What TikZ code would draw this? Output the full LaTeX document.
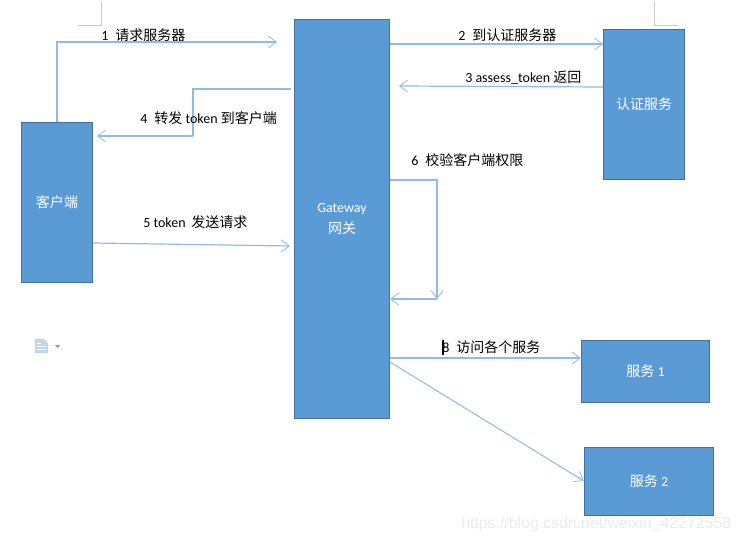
\documentclass[tikz,border=0pt]{standalone}
\usepackage{fontspec}
\setmainfont{Carlito}
\newfontfamily\cjk{Noto Sans CJK SC}
\usetikzlibrary{arrows.meta}
\definecolor{boxblue}{HTML}{5B9BD5}
\definecolor{boxedge}{HTML}{41719C}
\definecolor{linkblue}{HTML}{8FBCE6}
\tikzset{box/.style={draw=boxedge,fill=boxblue,line width=.75pt,text=white,inner sep=0pt,align=center,font=\fontsize{10.5}{14}\selectfont},
  link/.style={draw=linkblue,line width=.9pt,-{Straight Barb[length=6pt,width=9pt,line width=.6pt]}},
  plainlink/.style={draw=linkblue,line width=.9pt},
  lab/.style={font=\fontsize{10.5}{14}\selectfont,inner sep=0pt,anchor=west},
  cornermark/.style={draw=black!20,line width=.6pt}}

\begin{document}
\begin{tikzpicture}[x=.75pt,y=-.75pt]
  \useasboundingbox (0,0) rectangle (742,542);
  % boxes
  \node[box,minimum width=53.25pt,minimum height=120.5pt] (client) at (57,202.5) {\cjk 客户端};
  \node[box,minimum width=71.25pt,minimum height=298.5pt] (gateway) at (342,219) {Gateway\\[2pt]\cjk 网关};
  \node[box,minimum width=60.75pt,minimum height=111.75pt] (auth) at (644,104.5) {\cjk 认证服务};
  \node[box,minimum width=96.5pt,minimum height=46.5pt] (serviceA) at (645.5,371) {{\cjk 服务} 1};
  \node[box,minimum width=97pt,minimum height=51pt] (serviceB) at (649,481) {{\cjk 服务} 2};
  % free ends of the connectors
  \coordinate (gwa) at (277,42);
  \coordinate (gwb) at (291,89);
  \coordinate (gwc) at (399,86);
  \coordinate (gwd) at (290,246);
  \coordinate (turn) at (437,180);
  \coordinate (back) at (437,299);
  \coordinate (elbow) at (193,136);
  % connectors
  \draw[link] (client.north) |- (gwa);
  \draw[link] (gateway.east |- 0,44) -- (auth.west |- 0,44);
  \draw[link] (auth.west |- 0,87) -- (gwc);
  \draw[plainlink] (gwb) -| (elbow);
  \draw[link,shorten >=3pt] (elbow) -- (client.east |- elbow);
  \draw[link] (client.east |- 0,243) -- (gwd);
  \draw[link] (gateway.east |- turn) -- (turn) -- (back);
  \draw[link] (back) -- (gateway.east |- back);
  \draw[link] (gateway.east |- 0,358) -- (serviceA.west |- 0,358);
  \draw[link,line width=.8pt] (gateway.east |- 0,362) -- (serviceB.west);
  % labels
  \node[lab] (lab1) at (101,35) {1\hspace{.5em}{\cjk 请求服务器}};
  \node[lab] (lab2) at (458,35) {2\hspace{.5em}{\cjk 到认证服务器}};
  \node[lab] (lab3) at (465,78) {3 assess\_token {\cjk 返回}};
  \node[lab] (lab4) at (140,118) {4\hspace{.5em}{\cjk 转发} token {\cjk 到客户端}};
  \node[lab] (lab5) at (143,222.5) {5 token\hspace{.4em}{\cjk 发送请求}};
  \node[lab] (lab6) at (411,160.5) {6\hspace{.5em}{\cjk 校验客户端权限}};
  \node[lab] (lab8) at (442,347) {8\hspace{.5em}{\cjk 访问各个服务}};
  \draw[black,line width=1pt] (443,340) -- (443,355); % text cursor
  % page corner marks
  \draw[cornermark] (78,25) -- (101,25) -- (101,2);
  \draw[cornermark] (654,2) -- (654,25) -- (678,25);
  % document icon
  \fill[boxblue!40] (35,339) -- (44,339) -- (48,343) -- (48,353) -- (35,353) -- cycle;
  \draw[white,line width=.6pt] (37,343) -- (41,343) (37,346) -- (46,346) (37,349.5) -- (46,349.5);
  \fill[black!40] (55,345) -- (60,345) -- (57.5,348) -- cycle;
  % watermark
  \node[lab,text=black!8,font=\fontsize{11.9}{14}\selectfont\fontspec{Liberation Sans}] (stamp) at (461,524) {https://blog.csdn.net/weixin\_42272558};
\end{tikzpicture}
\end{document}
